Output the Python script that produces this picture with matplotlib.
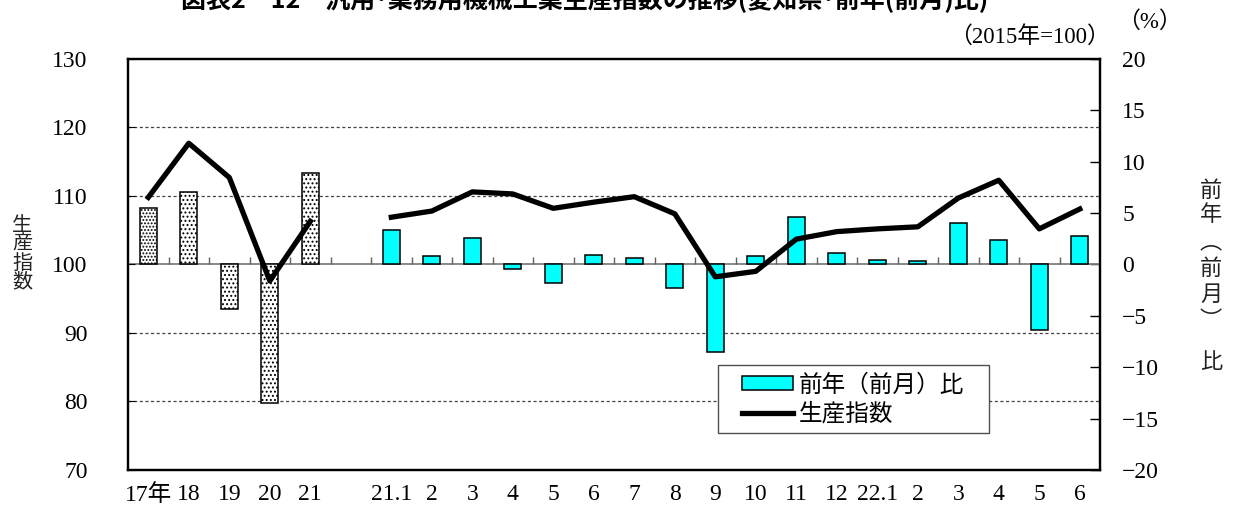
import matplotlib
matplotlib.use('Agg')
import matplotlib.pyplot as plt
import matplotlib.transforms as mtransforms
from matplotlib.patches import Patch, Rectangle
from matplotlib.lines import Line2D
import numpy as np

# data
year_labels = ['17年', '18', '19', '20', '21']
month_labels = ['21.1', '2', '3', '4', '5', '6', '7', '8', '9', '10', '11', '12',
                '22.1', '2', '3', '4', '5', '6']
year_index = [109.8, 117.7, 112.7, 97.6, 106.3]
month_index = [106.9, 107.8, 110.6, 110.3, 108.2, 109.1, 109.9, 107.4, 98.2,
               99.0, 103.7, 104.8, 105.2, 105.5, 109.7, 112.3, 105.2, 108.1]
year_change = [5.5, 7.1, -4.3, -13.5, 8.9]
month_change = [3.4, 0.8, 2.6, -0.4, -1.8, 0.9, 0.6, -2.3, -8.5,
                0.85, 4.6, 1.1, 0.45, 0.35, 4.0, 2.4, -6.4, 2.8]
grid_levels = [80, 90, 110, 120]

serif = ['Liberation Serif', 'Noto Sans CJK JP']
gothic = ['Noto Sans CJK JP', 'DejaVu Sans']
plt.rcParams['font.family'] = serif
plt.rcParams['hatch.linewidth'] = 0.9

fig = plt.figure(figsize=(12.36, 5.18), dpi=100)
ax = fig.add_axes((0.1036, 0.0927, 0.7864, 0.7934))
ax2 = ax.twinx()
ax.set_zorder(ax2.get_zorder() + 1)
ax.patch.set_visible(False)

n_year = len(year_labels)
x_year = np.arange(n_year)
x_month = np.arange(len(month_labels)) + n_year + 1
n_slots = n_year + 1 + len(month_labels)

# bars on the right axis
hatches = ['.....', '....', '....', '....', '....']
for xi, v, h in zip(x_year, year_change, hatches):
    ax2.bar(xi, v, width=0.42, color='white', edgecolor='black', hatch=h, lw=1.1, zorder=3)
ax2.bar(x_month, month_change, width=0.42, color='#00FFFF', edgecolor='black', lw=1.1, zorder=3)

# grid lines in left-axis units, drawn under the bars
tr = mtransforms.blended_transform_factory(ax2.transAxes, ax.transData)
for g in grid_levels:
    ax2.plot([0, 1], [g, g], transform=tr, color='#444444', lw=0.9,
             linestyle=(0, (2.5, 2)), zorder=1)
ax2.axhline(0, color='#808080', lw=1.3, zorder=2)
ax2.vlines(np.arange(1, n_slots) - 0.5, 0, 0.7, color='#606060', lw=1.0, zorder=2)

# index line on the left axis
x_line = np.arange(n_slots)
y_line = np.array(year_index + [np.nan] + month_index)
ax.plot(x_line, y_line, color='black', lw=3.8, zorder=4)

ax.set_xlim(-0.5, n_slots - 0.5)
ax.set_ylim(70, 130)
ax2.set_ylim(-20, 20)
ax.set_yticks(range(70, 131, 10))
ax2.set_yticks(range(-20, 21, 5))
ax.set_xticks(list(x_year) + list(x_month))
ax.set_xticklabels(year_labels + month_labels)

ax.tick_params(axis='x', length=0, pad=10, labelsize=17)
ax.tick_params(axis='y', direction='in', length=5, pad=29, labelsize=17)
ax2.tick_params(axis='y', direction='in', length=7, width=1.0, pad=16, labelsize=17)
for s in ax.spines.values():
    s.set_linewidth(1.6)
for s in ax2.spines.values():
    s.set_linewidth(1.6)

# legend box
ax.add_patch(Rectangle((0.607, 0.09), 0.279, 0.165, transform=ax.transAxes,
                       facecolor='white', edgecolor='#505050', lw=1.0, zorder=5))
handles = [Patch(facecolor='#00FFFF', edgecolor='black', lw=1.1),
           Line2D([], [], color='black', lw=3.8)]
leg = ax.legend(handles, ['前年（前月）比', '生産指数'], loc='center left',
                bbox_to_anchor=(0.632, 0.172), frameon=False, borderpad=0,
                borderaxespad=0, handlelength=2.15, handleheight=0.5,
                handletextpad=0.25, labelspacing=0.25,
                prop={'family': gothic, 'size': 17})
leg.set_zorder(6)

# vertical axis titles
W, H = 1236, 518
left_y = [225, 244, 263, 282]
for ch, y in zip('生産指数', left_y):
    fig.text(22 / W, 1 - y / H, ch, family=gothic, fontsize=14.5,
             ha='center', va='center', color='#222222')
right_chars = ['前', '年', '︵', '前', '月', '︶', '比']
right_y = [190, 214, 242, 268, 294, 320, 362]
for ch, y in zip(right_chars, right_y):
    fig.text(1211 / W, 1 - y / H, ch, family=gothic, fontsize=16,
             ha='center', va='center', color='#222222')

fig.text(1110 / W, 1 - 37 / H, '（2015年=100）', fontsize=16.5, ha='right', va='center')
fig.text(1149 / W, 1 - 22 / H, '（%）', fontsize=16.5, ha='center', va='center')
fig.text(585 / W, 1 - 8 / H, '図表2－12　汎用･業務用機械工業生産指数の推移(愛知県･前年(前月)比)',
         family=gothic, fontsize=18, fontweight='bold', ha='center', va='baseline')

fig.savefig('out.png', dpi=100)
